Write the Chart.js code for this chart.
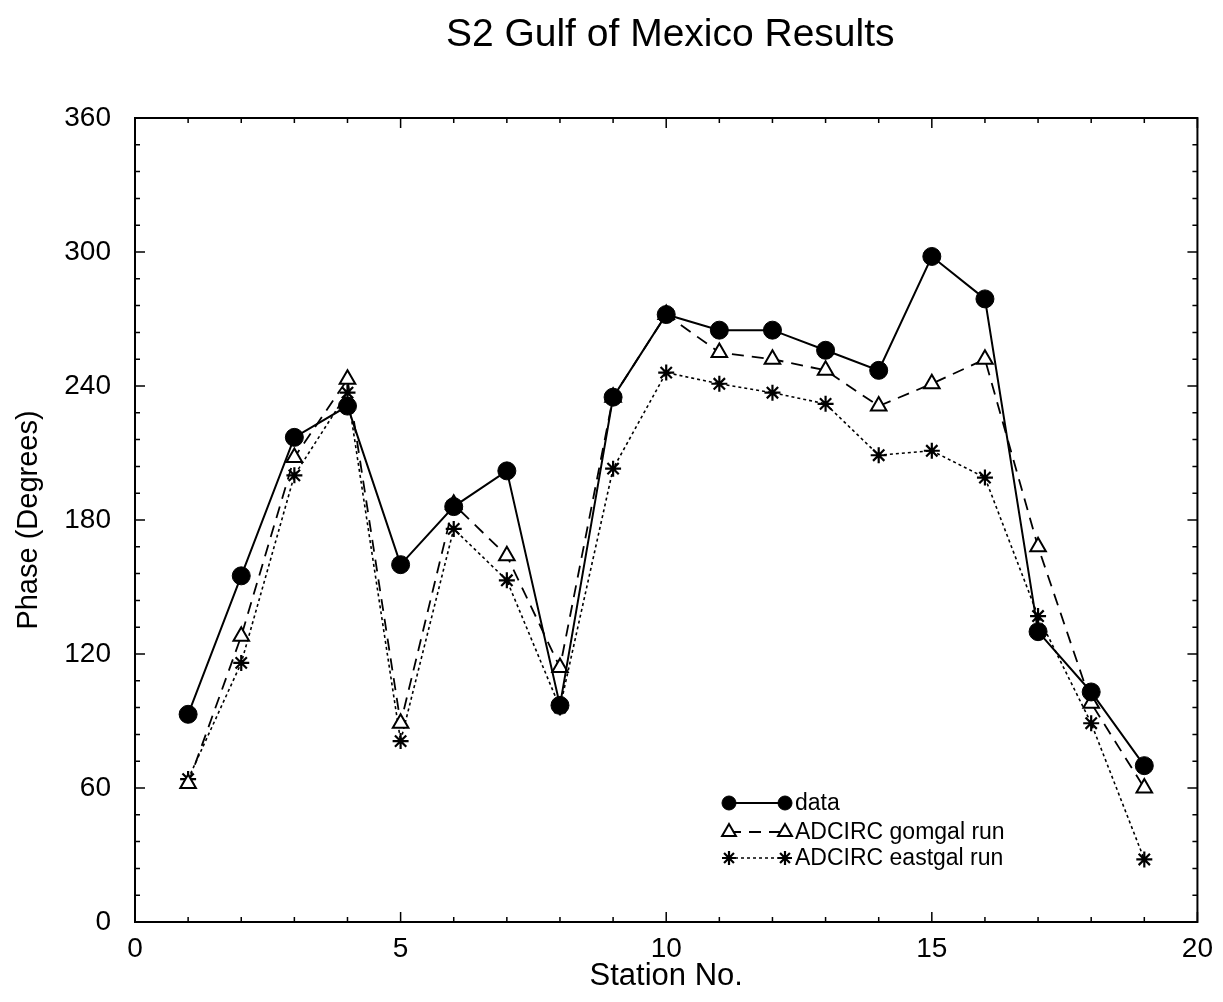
<!DOCTYPE html>
<html>
<head>
<meta charset="utf-8">
<title>S2 Gulf of Mexico Results</title>
<script src="https://cdn.jsdelivr.net/npm/chart.js@4.4.1/dist/chart.umd.min.js"></script>
<style>
  html, body { margin: 0; padding: 0; background: #fff; }
  #wrap { width: 1223px; height: 1002px; position: relative; }
</style>
</head>
<body>
<div id="wrap"><canvas id="phaseChart"></canvas></div>
<script>
// station numbers and phase values (degrees)
const stations = [1, 2, 3, 4, 5, 6, 7, 8, 9, 10, 11, 12, 13, 14, 15, 16, 17, 18, 19];
const dataPhase = [93, 155, 217, 231, 160, 186, 202, 97, 235, 272, 265, 265, 256, 247, 298, 279, 130, 103, 70];
const gomgalPhase = [62, 128, 208, 243, 89, 187, 164, 114, 235, 272, 255, 252, 247, 231, 241, 252, 168, 98, 60];
const eastgalPhase = [64, 116, 200, 237, 81, 176, 153, 96, 203, 246, 241, 237, 232, 209, 211, 199, 137, 89, 28];

const xTicks = [0, 5, 10, 15, 20];
const yTicks = [0, 60, 120, 180, 240, 300, 360];

const chartTitle = 'S2 Gulf of Mexico Results';
const FONT = '"Liberation Sans", Arial, Helvetica, sans-serif';

const toPoints = (vals) => vals.map((v, i) => ({ x: stations[i], y: v }));

// title centred over the plot box rather than the whole canvas
const plotTitle = {
  id: 'plotTitle',
  afterDraw(chart) {
    const { ctx, chartArea: a } = chart;
    ctx.save();
    ctx.fillStyle = '#000';
    ctx.font = '39px ' + FONT;
    ctx.textAlign = 'center';
    ctx.textBaseline = 'middle';
    ctx.fillText(chartTitle, (a.left + a.right) / 2 + 4, 35);
    ctx.restore();
  }
};

// box around the plot with inward major/minor ticks on all four sides
const framePlugin = {
  id: 'frame',
  beforeDatasetsDraw(chart) {
    const { ctx, chartArea: a, scales: { x, y } } = chart;
    ctx.save();
    ctx.strokeStyle = '#000';
    ctx.lineWidth = 2;
    ctx.strokeRect(a.left, a.top, a.right - a.left, a.bottom - a.top);
    ctx.lineWidth = 1.5;
    ctx.beginPath();
    for (let v = x.min; v <= x.max; v += 1) {
      const px = x.getPixelForValue(v);
      const len = v % 5 === 0 ? 10 : 5;
      ctx.moveTo(px, a.bottom); ctx.lineTo(px, a.bottom - len);
      ctx.moveTo(px, a.top); ctx.lineTo(px, a.top + len);
    }
    for (let v = y.min; v <= y.max; v += 12) {
      const py = y.getPixelForValue(v);
      const len = v % 60 === 0 ? 10 : 5;
      ctx.moveTo(a.left, py); ctx.lineTo(a.left + len, py);
      ctx.moveTo(a.right, py); ctx.lineTo(a.right - len, py);
    }
    ctx.stroke();
    ctx.restore();
  }
};

// line + marker samples, drawn inside the plot at lower right
const sampleLegend = {
  id: 'sampleLegend',
  afterDraw(chart) {
    const { ctx } = chart;
    const x0 = 729, x1 = 785, textX = 795;
    const rows = [803, 832, 858];
    ctx.save();
    chart.data.datasets.forEach((ds, i) => {
      const yy = rows[i];
      ctx.strokeStyle = '#000';
      ctx.lineWidth = ds.borderWidth;
      ctx.setLineDash(ds.borderDash || []);
      ctx.beginPath();
      ctx.moveTo(x0, yy); ctx.lineTo(x1, yy);
      ctx.stroke();
      ctx.setLineDash([]);
      const style = {
        pointStyle: ds.pointStyle,
        radius: ds.pointStyle === 'circle' ? 7 : ds.pointRadius - 1,
        rotation: 0,
        borderWidth: ds.pointBorderWidth
      };
      ctx.fillStyle = ds.pointBackgroundColor;
      ctx.strokeStyle = '#000';
      ctx.lineWidth = ds.pointBorderWidth;
      Chart.helpers.drawPoint(ctx, style, x0, yy);
      Chart.helpers.drawPoint(ctx, style, x1, yy);
      ctx.fillStyle = '#000';
      ctx.font = '23px ' + FONT;
      ctx.textBaseline = 'middle';
      ctx.textAlign = 'left';
      ctx.fillText(ds.label, textX, yy + 1);
    });
    ctx.restore();
  }
};

const ctx = document.getElementById('phaseChart').getContext('2d');
new Chart(ctx, {
  type: 'line',
  data: {
    datasets: [
      {
        label: 'data',
        data: toPoints(dataPhase),
        borderColor: '#000',
        borderWidth: 2,
        pointStyle: 'circle',
        pointRadius: 9,
        pointBackgroundColor: '#000',
        pointBorderColor: '#000',
        pointBorderWidth: 1
      },
      {
        label: 'ADCIRC gomgal run',
        data: toPoints(gomgalPhase),
        borderColor: '#000',
        borderWidth: 1.8,
        borderDash: [12, 8],
        pointStyle: 'triangle',
        pointRadius: 9,
        pointBackgroundColor: '#fff',
        pointBorderColor: '#000',
        pointBorderWidth: 2
      },
      {
        label: 'ADCIRC eastgal run',
        data: toPoints(eastgalPhase),
        borderColor: '#000',
        borderWidth: 1.6,
        borderDash: [3, 3],
        pointStyle: 'star',
        pointRadius: 8,
        pointBackgroundColor: '#000',
        pointBorderColor: '#000',
        pointBorderWidth: 2.2
      }
    ]
  },
  options: {
    responsive: true,
    maintainAspectRatio: false,
    animation: false,
    layout: { padding: { top: 118, right: 25, bottom: 0, left: 0 } },
    plugins: {
      legend: { display: false },
      tooltip: { enabled: false },
      title: { display: false }
    },
    scales: {
      x: {
        type: 'linear',
        min: 0,
        max: 20,
        afterBuildTicks: (scale) => { scale.ticks = xTicks.map(v => ({ value: v })); },
        afterFit: (scale) => { scale.height = 80; },
        grid: { display: false, drawTicks: false, tickLength: 0 },
        border: { display: false },
        ticks: { color: '#000', font: { family: FONT, size: 28 }, padding: 10, maxRotation: 0 },
        title: {
          display: true,
          text: 'Station No.',
          color: '#000',
          font: { family: FONT, size: 31 },
          padding: { top: 0, bottom: 7 }
        }
      },
      y: {
        type: 'linear',
        min: 0,
        max: 360,
        afterBuildTicks: (scale) => { scale.ticks = yTicks.map(v => ({ value: v })); },
        afterFit: (scale) => { scale.width = 135; },
        grid: { display: false, drawTicks: false, tickLength: 0 },
        border: { display: false },
        ticks: { color: '#000', font: { family: FONT, size: 28 }, padding: 24 },
        title: {
          display: true,
          text: 'Phase (Degrees)',
          color: '#000',
          font: { family: FONT, size: 29 },
          padding: { top: 12, bottom: 0 }
        }
      }
    }
  },
  plugins: [framePlugin, sampleLegend, plotTitle]
});
</script>
</body>
</html>
